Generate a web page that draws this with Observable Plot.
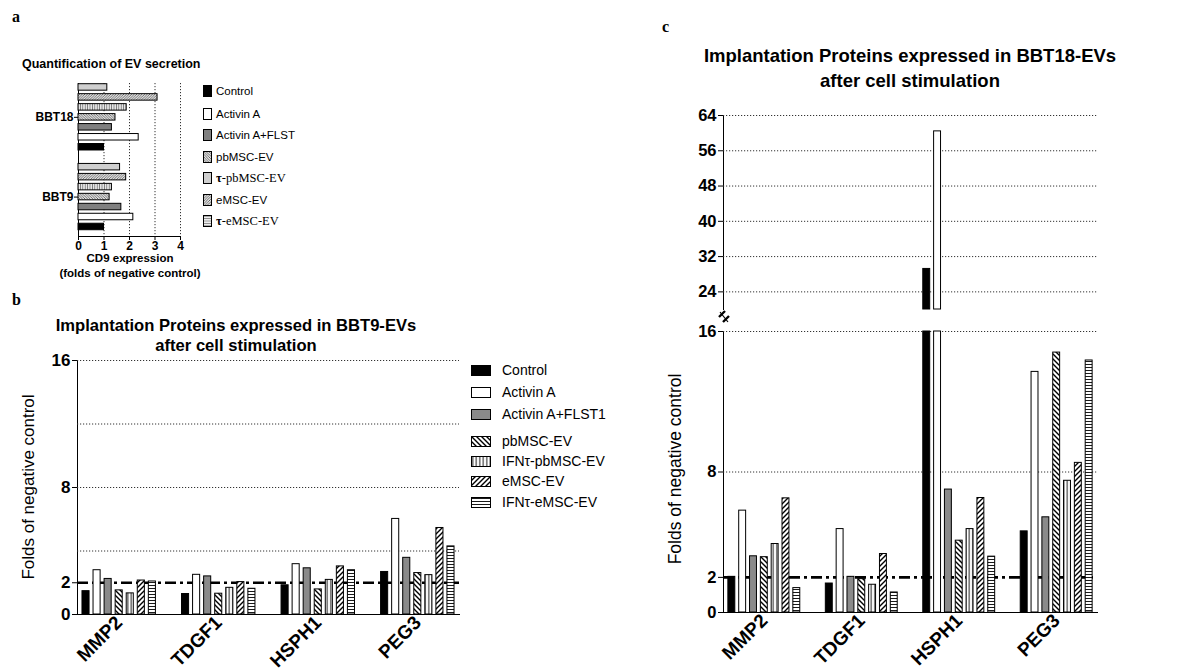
<!DOCTYPE html>
<html><head><meta charset="utf-8">
<script src="https://cdn.jsdelivr.net/npm/d3@7"></script>
<script src="https://cdn.jsdelivr.net/npm/@observablehq/plot@0.6"></script>
<style>
html,body{margin:0;padding:0;background:#fff;}
#fig{position:relative;width:1190px;height:672px;overflow:hidden;font-family:"Liberation Sans",Arial,Helvetica,sans-serif;color:#000;background:#fff;}
.abs{position:absolute;}
.plab{position:absolute;font-family:"Liberation Serif","Times New Roman",serif;font-weight:bold;font-size:16px;line-height:16px;}
.ttl{position:absolute;font-weight:bold;text-align:center;white-space:nowrap;}
.ylab{position:absolute;white-space:nowrap;transform:translate(-50%,-50%) rotate(-90deg);font-size:17px;line-height:1;}
.leg{position:absolute;white-space:nowrap;display:flex;align-items:center;}
.leg svg{display:block;flex:none;}
.serif{font-family:"Liberation Serif","Times New Roman",serif;}
#pb g[aria-label^="x-axis"] text, #pcb g[aria-label^="x-axis"] text{font-size:19px;}
</style>
</head><body>
<svg width="0" height="0" style="position:absolute;left:0;top:0">
 <defs>
  <pattern id="hb" patternUnits="userSpaceOnUse" width="5" height="5">
   <rect width="5" height="5" fill="#fff"/>
   <path d="M-1,-1L6,6M-1,4L1,6M4,-1L6,1" stroke="#000" stroke-width="1.4"/>
  </pattern>
  <pattern id="hf" patternUnits="userSpaceOnUse" width="5" height="5">
   <rect width="5" height="5" fill="#fff"/>
   <path d="M-1,6L6,-1M-1,1L1,-1M4,6L6,4" stroke="#000" stroke-width="1.4"/>
  </pattern>
  <pattern id="vl" patternUnits="userSpaceOnUse" width="3.5" height="4">
   <rect width="3.5" height="4" fill="#fff"/>
   <line x1="1.75" y1="0" x2="1.75" y2="4" stroke="#000" stroke-width="0.9"/>
  </pattern>
  <pattern id="hl" patternUnits="userSpaceOnUse" width="4" height="3">
   <rect width="4" height="3" fill="#fff"/>
   <line x1="0" y1="1.5" x2="4" y2="1.5" stroke="#000" stroke-width="0.9"/>
  </pattern>
  <pattern id="ahb" patternUnits="userSpaceOnUse" width="2.6" height="2.6">
   <rect width="2.6" height="2.6" fill="#e2e2e2"/>
   <path d="M-1,-1L3.6,3.6" stroke="#555" stroke-width="0.8"/>
  </pattern>
  <pattern id="ahf" patternUnits="userSpaceOnUse" width="2.6" height="2.6">
   <rect width="2.6" height="2.6" fill="#e2e2e2"/>
   <path d="M-1,3.6L3.6,-1" stroke="#555" stroke-width="0.8"/>
  </pattern>
  <pattern id="avl" patternUnits="userSpaceOnUse" width="2.4" height="3">
   <rect width="2.4" height="3" fill="#e6e6e6"/>
   <line x1="1.2" y1="0" x2="1.2" y2="3" stroke="#666" stroke-width="0.8"/>
  </pattern>
  <pattern id="ahl" patternUnits="userSpaceOnUse" width="3" height="2.4">
   <rect width="3" height="2.4" fill="#eeeeee"/>
   <line x1="0" y1="1.2" x2="3" y2="1.2" stroke="#777" stroke-width="0.8"/>
  </pattern>
 </defs>
</svg>
<div id="fig"></div>
<script>
// ---------------- data ----------------
const treatments = ["Control","Activin A","Activin A+FLST1","pbMSC-EV","IFNτ-pbMSC-EV","eMSC-EV","IFNτ-eMSC-EV"];
const genes = ["MMP2","TDGF1","HSPH1","PEG3"];
// panel b: BBT9-EVs
const bbt9_MMP2  = [1.47, 2.79, 2.24, 1.52, 1.33, 2.14, 2.08];
const bbt9_TDGF1 = [1.29, 2.50, 2.40, 1.31, 1.68, 2.04, 1.62];
const bbt9_HSPH1 = [1.84, 3.17, 2.91, 1.58, 2.18, 3.03, 2.79];
const bbt9_PEG3  = [2.68, 6.02, 3.57, 2.61, 2.48, 5.45, 4.29];
// panel c: BBT18-EVs
const bbt18_MMP2  = [2.03, 5.80, 3.20, 3.15, 3.90, 6.50, 1.39];
const bbt18_TDGF1 = [1.65, 4.75, 2.03, 1.90, 1.58, 3.33, 1.14];
const bbt18_HSPH1 = [29.2, 60.4, 7.00, 4.09, 4.75, 6.52, 3.18];
const bbt18_PEG3  = [4.62, 13.7, 5.42, 14.8, 7.50, 8.52, 14.35];
// panel a: CD9
const cd9Lines = ["BBT18","BBT9"];
const cd9Treatments = ["Control","Activin A","Activin A+FLST","pbMSC-EV","τ-pbMSC-EV","eMSC-EV","τ-eMSC-EV"];
const cd9_BBT18 = [1.00, 2.36, 1.31, 1.45, 1.89, 3.10, 1.13];
const cd9_BBT9  = [1.00, 2.15, 1.68, 1.22, 1.31, 1.87, 1.63];
// ticks
const xTicksA = [0,1,2,3,4];
const gridA = [1,2,3,4];
const yTicksB = [0,2,8,16];
const gridB = [4,8,12,16];
const yTicksCTop = [24,32,40,48,56,64];
const yTicksCBottom = [0,2,8,16];
const gridCBottom = [8,16];
const baselineLevel = 2;
const breakLow = 16, breakHigh = 20, cMax = 64;

// ---------------- helpers ----------------
const FONT = '"Liberation Sans", Arial, Helvetica, sans-serif';
const fig = document.getElementById("fig");
function put(node, left, top, w, id) {
  const d = document.createElement("div");
  d.className = "abs"; d.style.left = left + "px"; d.style.top = top + "px";
  if (w) d.style.width = w + "px";
  if (id) d.id = id;
  d.appendChild(node); fig.appendChild(d); return d;
}
function html(cls, content, css) {
  const d = document.createElement("div");
  d.className = cls; d.innerHTML = content;
  Object.assign(d.style, css); fig.appendChild(d); return d;
}
const fillsBC = ["#000","#fff","#8a8a8a","url(#hb)","url(#vl)","url(#hf)","url(#hl)"];
const fillsA = ["#000","#fff","#808080","url(#ahb)","url(#avl)","url(#ahf)","#cfcfcf"];
const fillsALegend = ["#000","#fff","#808080","url(#ahb)","#cfcfcf","url(#ahf)","url(#ahl)"];
const dotted = {stroke: "#333", strokeWidth: 1, strokeDasharray: "1.2,1.8"};
const dashDot = {stroke: "#000", strokeWidth: 2.6, strokeDasharray: "11,4,3,4"};

function groupedKeys(groups, items, spacers) {
  const keys = [];
  groups.forEach((g, i) => {
    items.forEach(t => keys.push(g + "|" + t));
    if (i < groups.length - 1) for (let k = 0; k < spacers; k++) keys.push(g + "|_" + k);
  });
  return keys;
}
function rowsFor(groups, items, valueLists) {
  return groups.flatMap((g, gi) => items.map((t, ti) => ({group: g, treatment: t, key: g + "|" + t, value: valueLists[gi][ti]})));
}
const keysBC = groupedKeys(genes, treatments, 2);
const midKeys = genes.map(g => g + "|" + treatments[3]);
const geneLabel = k => midKeys.includes(k) ? k.split("|")[0] : "";
const rowsB = rowsFor(genes, treatments, [bbt9_MMP2, bbt9_TDGF1, bbt9_HSPH1, bbt9_PEG3]);
const rowsC = rowsFor(genes, treatments, [bbt18_MMP2, bbt18_TDGF1, bbt18_HSPH1, bbt18_PEG3]);

const baseStyle = (size) => ({fontFamily: FONT, fontSize: size, fontWeight: "bold", color: "#000", background: "transparent", overflow: "visible"});
const xBand = {type: "band", domain: keysBC, paddingInner: 0.36, paddingOuter: 0.45, round: false};

// ---------------- panel a ----------------
const aKeys = [];
cd9Lines.forEach((l, i) => {
  [...cd9Treatments].reverse().forEach(t => aKeys.push(l + "|" + t));
  if (i < cd9Lines.length - 1) aKeys.push("_gap");
});
const aMid = cd9Lines.map(l => l + "|" + cd9Treatments[3]);
const rowsA = rowsFor(cd9Lines, cd9Treatments, [cd9_BBT18, cd9_BBT9]);
const pa = Plot.plot({
  width: 190, height: 181, marginLeft: 78, marginRight: 10, marginTop: 8, marginBottom: 20,
  style: baseStyle("12px"),
  x: {domain: [0, 4], ticks: xTicksA, tickFormat: "d", tickSize: 4, tickPadding: 1, line: true, label: null},
  y: {type: "band", domain: aKeys, paddingInner: 0.35, paddingOuter: 0.35, align: 0.1, round: false, line: true,
      ticks: aMid, tickFormat: k => aMid.includes(k) ? k.split("|")[0] : "", tickSize: 4, tickPadding: 1, label: null},
  color: {type: "ordinal", domain: cd9Treatments, range: fillsA},
  marks: [
    Plot.ruleX(gridA, dotted),
    Plot.barX(rowsA, {y: "key", x: "value", fill: "treatment", stroke: "#000", strokeWidth: 1})
  ]
});
put(pa, 0, 75, 190, "pa");

// ---------------- panel b ----------------
const pb = Plot.plot({
  width: 465, height: 322, marginLeft: 77, marginRight: 6, marginTop: 10, marginBottom: 58,
  style: baseStyle("17px"),
  x: {...xBand, line: true, tickSize: 0, tickRotate: -45, tickPadding: 5, ticks: midKeys, tickFormat: geneLabel, label: null},
  y: {domain: [0, 16], ticks: yTicksB, tickSize: 5, tickPadding: 2, line: true, label: null},
  color: {type: "ordinal", domain: treatments, range: fillsBC},
  marks: [
    Plot.ruleY(gridB, dotted),
    Plot.ruleY([baselineLevel], dashDot),
    Plot.barY(rowsB, {x: "key", y: "value", fill: "treatment", stroke: "#000", strokeWidth: 1})
  ]
});
put(pb, 0, 350, 465, "pb");

// ---------------- panel c (broken axis) ----------------
const pcTop = Plot.plot({
  width: 590, height: 204, marginLeft: 123, marginRight: 93, marginTop: 10, marginBottom: 0,
  style: baseStyle("16.5px"),
  x: {...xBand, axis: null},
  y: {domain: [breakHigh, cMax], ticks: yTicksCTop, tickSize: 5, tickPadding: 2, line: true, label: null},
  color: {type: "ordinal", domain: treatments, range: fillsBC},
  marks: [
    Plot.ruleY(yTicksCTop, dotted),
    Plot.barY(rowsC.filter(d => d.value > breakHigh), {x: "key", y1: () => breakHigh, y2: "value", fill: "treatment", stroke: "#000", strokeWidth: 1})
  ]
});
put(pcTop, 600, 105, 590, "pct");

const pcBot = Plot.plot({
  width: 590, height: 351, marginLeft: 123, marginRight: 93, marginTop: 10, marginBottom: 60,
  style: baseStyle("16.5px"),
  x: {...xBand, line: true, tickSize: 0, tickRotate: -45, tickPadding: 5, ticks: midKeys, tickFormat: geneLabel, label: null},
  y: {domain: [0, breakLow], clamp: true, ticks: yTicksCBottom, tickSize: 5, tickPadding: 2, line: true, label: null},
  color: {type: "ordinal", domain: treatments, range: fillsBC},
  marks: [
    Plot.ruleY(gridCBottom, dotted),
    Plot.ruleY([baselineLevel], dashDot),
    Plot.barY(rowsC, {x: "key", y: "value", fill: "treatment", stroke: "#000", strokeWidth: 1})
  ]
});
put(pcBot, 600, 321, 590, "pcb");

// axis break mark
html("abs", '<svg width="16" height="16"><path d="M3,8L9,2M7,13L13,7" stroke="#000" stroke-width="2.4"/><path d="M4,3L12,13" stroke="#000" stroke-width="1.2"/></svg>', {left: "716px", top: "309px"});

// ---------------- texts ----------------
html("plab", "a", {left: "12px", top: "9px"});
html("plab", "b", {left: "12px", top: "292px"});
html("plab", "c", {left: "662px", top: "19px"});

html("ttl", "Quantification of EV secretion", {left: "22px", top: "57px", fontSize: "12.5px", lineHeight: "14px", textAlign: "left"});
html("ttl", "CD9 expression<br>(folds of negative control)", {left: "30px", width: "200px", top: "251px", fontSize: "11.5px", lineHeight: "15px"});

html("ttl", "Implantation Proteins expressed in BBT9-EVs<br>after cell stimulation", {left: "36px", width: "400px", top: "316px", fontSize: "16.6px", lineHeight: "20px"});
html("ttl", "Implantation Proteins expressed in BBT18-EVs<br>after cell stimulation", {left: "660px", width: "500px", top: "43px", fontSize: "18.5px", lineHeight: "25px"});

html("ylab", "Folds of negative control", {left: "28px", top: "487px"});
html("ylab", "Folds of negative control", {left: "676px", top: "469px", fontSize: "17.5px"});

// legend a
const legAY = [91, 113.5, 135, 156.5, 178, 200, 221];
cd9Treatments.forEach((t, i) => {
  const isTau = t.startsWith("τ");
  const label = isTau ? '<span class="serif" style="font-size:12.5px"><b>τ</b>' + t.slice(1) + '</span>' : t;
  html("leg", '<svg width="9" height="12"><rect x="0.5" y="0.5" width="8" height="11" fill="' + fillsALegend[i] + '" stroke="#000" stroke-width="1"/></svg><span style="margin-left:4px">' + label + '</span>',
    {left: "203px", top: (legAY[i] - 7) + "px", height: "14px", fontSize: "11.5px"});
});
// legend b
const legBY = [370, 392, 414, 441, 461, 481, 502];
treatments.forEach((t, i) => {
  html("leg", '<svg width="20" height="11"><rect x="0.5" y="0.5" width="19" height="10" fill="' + fillsBC[i] + '" stroke="#000" stroke-width="1"/></svg><span style="margin-left:11px">' + t + '</span>',
    {left: "471px", top: (legBY[i] - 8) + "px", height: "16px", fontSize: "14px"});
});
</script>
</body></html>
